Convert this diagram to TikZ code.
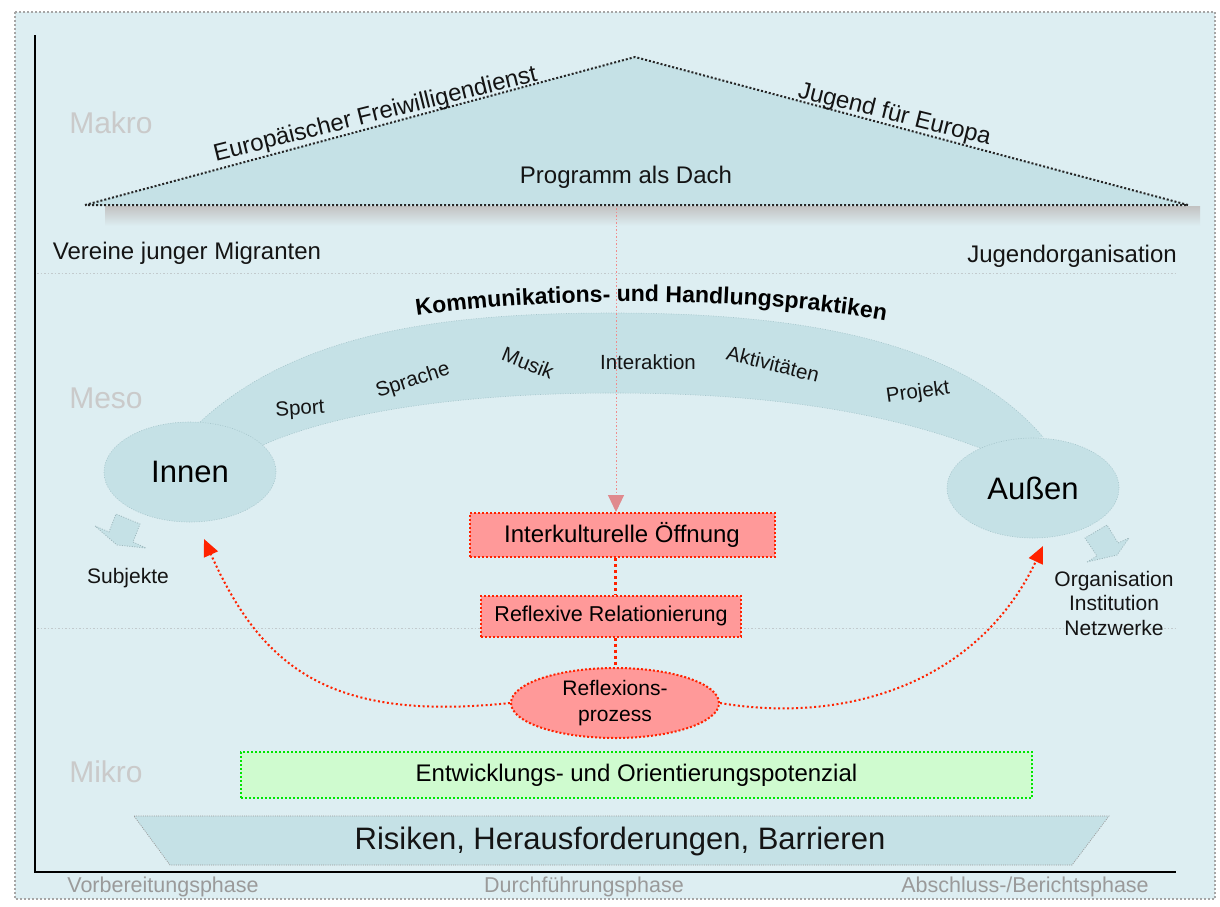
\documentclass[tikz,border=0pt]{standalone}
\usepackage{fontspec}
\setmainfont{Liberation Sans}
\usetikzlibrary{shapes.geometric,arrows.meta,decorations.text}
\definecolor{bgc}{HTML}{DDEEF2}
\definecolor{shp}{HTML}{C5E1E6}
\definecolor{shpline}{HTML}{A6C6CC}
\definecolor{pinkf}{HTML}{FF9999}
\definecolor{redl}{HTML}{FF2200}
\definecolor{greenf}{HTML}{CFFBCF}
\definecolor{greenl}{HTML}{00E600}
\definecolor{lvl}{HTML}{CACACA}
\definecolor{phs}{HTML}{9A9A9A}
\definecolor{sep}{HTML}{C2CACD}
\definecolor{pinkl}{HTML}{F08C8C}
\definecolor{pinka}{HTML}{E08A8E}
\newcommand{\fsz}[1]{\fontsize{#1}{#1}\selectfont}
\newcommand{\kfont}{\fontsize{23}{23}\selectfont\bfseries}
\tikzset{
  lbl/.style={font=\fsz{24}, text=black!92, inner sep=0},
  lvllbl/.style={font=\fsz{30}, text=lvl, inner sep=0},
  phase/.style={font=\fsz{21.5}, text=phs, inner sep=0},
  bandlbl/.style={font=\fsz{20.5}, text=black!92, inner sep=0},
  small/.style={font=\fsz{21}, text=black!92, inner sep=0},
  ell/.style={ellipse, fill=shp, draw=shpline, line width=0.6, dash pattern=on 1pt off 1.5pt,
    minimum width=172, minimum height=100, inner sep=0, font=\fsz{31}},
  redbox/.style={rectangle, fill=pinkf, draw=redl, line width=2, dash pattern=on 2pt off 2pt,
    inner sep=0, font=\fsz{24}},
  redell/.style={ellipse, fill=pinkf, draw=redl, line width=2, dash pattern=on 2pt off 2pt,
    minimum width=208, minimum height=70, inner sep=0, align=center,
    font=\fontsize{21}{26}\selectfont},
  greenbox/.style={rectangle, fill=greenf, draw=greenl, line width=2, dash pattern=on 2pt off 2pt,
    inner sep=0, font=\fsz{24}},
  redthick/.style={redl, line width=3, dash pattern=on 3pt off 3pt},
  redcurve/.style={redl, line width=2, dash pattern=on 2pt off 2.5pt,
    -{Triangle[length=17pt,width=15pt]}},
  sepline/.style={sep, line width=1, dash pattern=on 1.5pt off 2pt},
  roofline/.style={black!85, line width=2, dash pattern=on 2pt off 2pt},
  blockarr/.style={fill=shp, draw=shpline!80!gray, line width=0.8, dash pattern=on 1pt off 1.5pt},
}
\begin{document}
\begin{tikzpicture}[x=1pt,y=-1pt]
\useasboundingbox (0,0) rectangle (1220,906);
\fill[white] (0,0) rectangle (1220,906);
\fill[bgc] (15,12) rectangle (1215,899);
\draw[gray!70, line width=2, dash pattern=on 2pt off 2pt] (15,12) rectangle (1215,899);

% level separators
\draw[sepline] (37,273) -- (1175,273);
\draw[sepline] (37,628) -- (1175,628);

% roof shadow
\shade[top color=black!24, bottom color=bgc] (105,206) rectangle (1200,226);
% roof
\coordinate (rl) at (85,205);
\coordinate (apex) at (635,57);
\coordinate (rr) at (1188,205);
\fill[shp] (rl) -- (apex) -- (rr) -- cycle;
\draw[roofline] (rl) -- (apex) -- (rr) -- cycle;
\node[lbl, rotate=14, anchor=base] (efd) at (377,121) {Europäischer Freiwilligendienst};
\node[lbl, rotate=-14, anchor=base] (jfe) at (893,121) {Jugend für Europa};
\node[lbl] (dach) at (626,177) {Programm als Dach};

% level labels
\node[lvllbl] (makro) at (111,123) {Makro};
\node[lvllbl] (meso) at (106,398) {Meso};
\node[lvllbl] (mikro) at (106,772) {Mikro};
\node[lbl] (vjm) at (187,253) {Vereine junger Migranten};
\node[lbl] (jorg) at (1072,256) {Jugendorganisation};

% band
\fill[shp] (200,422) .. controls (300,330) and (450,313) .. (613,313)
  .. controls (800,313) and (960,340) .. (1043,437) -- (980,448)
  .. controls (880,410) and (760,393) .. (613,393)
  .. controls (450,393) and (330,415) .. (263,445) -- cycle;
\draw[shpline, line width=0.6, dash pattern=on 1pt off 1.5pt] (200,422) .. controls (300,330) and (450,313) .. (613,313)
  .. controls (800,313) and (960,340) .. (1043,437);
\draw[shpline, line width=0.6, dash pattern=on 1pt off 1.5pt] (980,448)
  .. controls (880,410) and (760,393) .. (613,393)
  .. controls (450,393) and (330,415) .. (263,445);

\path[decorate, decoration={text along path, text align=center,
  text={|\kfont|Kommunikations- und Handlungspraktiken}}]
  (408,317) .. controls (540,296) and (760,296) .. (894,322);

\node[bandlbl, rotate=4] (sport) at (300,410) {Sport};
\node[bandlbl, rotate=18] (sprache) at (413,381) {Sprache};
\node[bandlbl, rotate=-22] (musik) at (528,363) {Musik};
\node[bandlbl] (interaktion) at (648,362) {Interaktion};
\node[bandlbl, rotate=-14] (aktiv) at (773,364) {Aktivitäten};
\node[bandlbl, rotate=8] (projekt) at (918,393) {Projekt};

% ellipses
\node[ell] (innen) at (190,472) {Innen};
\node[ell] (aussen) at (1033,488) {Außen};

% block arrows
\filldraw[blockarr] (95,526) -- (109,532) -- (116,514) -- (140,524) -- (133,542) -- (146,548) -- (117,545) -- cycle;
\filldraw[blockarr] (1087,562) -- (1097,556) -- (1085,538) -- (1107,525) -- (1118,543) -- (1129,538) -- (1117,555) -- cycle;
\node[small] (subj) at (128,578) {Subjekte};
\node[small, align=center, font=\fontsize{21}{24.5}\selectfont] (org) at (1114,603) {Organisation\\Institution\\Netzwerke};

% center chain
\node[redbox, minimum width=305, minimum height=44] (ikoe) at (622,535) {Interkulturelle Öffnung};
\node[redbox, minimum width=260, minimum height=41, font=\fsz{21.5}] (rrel) at (611,616) {Reflexive Relationierung};
\node[redell] (refl) at (615,703) {Reflexions-\\prozess};

\coordinate (dachbase) at (616,208);
\draw[pinkl, line width=1, dash pattern=on 1.5pt off 2pt,
  -{Triangle[length=17pt,width=16pt,color=pinka]}] (dachbase) -- (ikoe.north -| dachbase);
\draw[redthick] (ikoe.south -| refl) -- (rrel.north -| refl);
\draw[redthick] (rrel.south -| refl) -- (refl.north);

\coordinate (innentip) at (204,539);
\coordinate (aussentip) at (1043,546);
\draw[redcurve] (refl.west) .. controls (330,722) and (262,668) .. (innentip);
\draw[redcurve] (refl.east) .. controls (850,725) and (980,680) .. (aussentip);

% potential
\node[greenbox, minimum width=791, minimum height=46] (pot) at (636.5,775) {Entwicklungs- und Orientierungspotenzial};

% risks trapezoid
\fill[shp] (134,816) -- (1109,816) -- (1072,865) -- (170,865) -- cycle;
\draw[gray!80, line width=0.7, dash pattern=on 1pt off 1.2pt] (134,816) -- (1109,816) -- (1072,865) -- (170,865) -- cycle;
\node[lbl, font=\fsz{31}] (risk) at (620,841) {Risiken, Herausforderungen, Barrieren};

% axes
\draw[black, line width=2.5] (35,35) -- (35,872) -- (1176,872);

% phases
\node[phase] (p1) at (163,887) {Vorbereitungsphase};
\node[phase] (p2) at (584,887) {Durchführungsphase};
\node[phase] (p3) at (1025,887) {Abschluss-/Berichtsphase};
\end{tikzpicture}
\end{document}
